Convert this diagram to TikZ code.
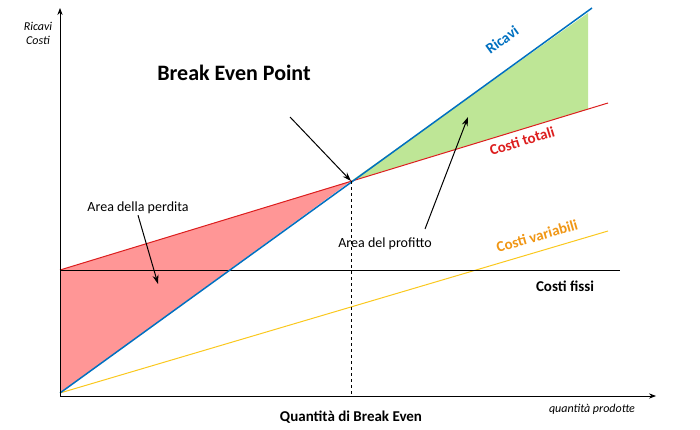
\documentclass[tikz,border=0pt]{standalone}
\usepackage{fontspec}
\setmainfont{Carlito}
\usetikzlibrary{arrows.meta}
\definecolor{ricaviblue}{RGB}{0,112,192}
\definecolor{costired}{RGB}{220,30,30}
\definecolor{varorange}{RGB}{240,150,20}
\definecolor{varyellow}{RGB}{250,200,30}
\definecolor{lossred}{RGB}{255,150,150}
\definecolor{profitgreen}{RGB}{190,230,150}

\begin{document}
\begin{tikzpicture}[
    x=1pt,y=-1pt,
    axis/.style={-{Stealth[length=7pt]},line width=0.8pt},
    lbl/.style={font=\fontsize{14}{16}\selectfont,inner sep=1pt},
    linelbl/.style={font=\fontsize{15}{17}\selectfont\bfseries,inner sep=1pt},
    pointer/.style={-{Stealth[length=9pt,width=6pt]},line width=1pt},
]
\useasboundingbox (0,0) rectangle (700,430);

% Points
\coordinate (o) at (60,396);
\coordinate (ytop) at (60,8);
\coordinate (xend) at (656,396);
\coordinate (bep) at (351,181);
\coordinate (rstart) at (60,393);
\coordinate (rend) at (592,8);
\coordinate (tstart) at (60,270);
\coordinate (tend) at (608,103);
\coordinate (fend) at (620,270);
\coordinate (vend) at (608,231);
\coordinate (bepfoot) at (351,396);

% Areas
\fill[lossred] (tstart) -- (bep) -- (rstart) -- cycle;
\fill[profitgreen] (bep) -- (588,13) -- (588,109) -- cycle;

% Lines
\draw[varyellow,line width=1pt] (rstart) -- (vend);
\draw[line width=1pt] (tstart) -- (fend);
\draw[costired,line width=1pt] (tstart) -- (tend);
\draw[ricaviblue,line width=1.5pt] (rstart) -- (rend);
\draw[dashed,line width=0.5pt] (bep) -- (bepfoot);

% Axes
\draw[axis] (o) -- (ytop);
\draw[axis] (o) -- (xend);

% Labels
\node[lbl,font=\fontsize{12}{14}\selectfont\itshape,align=center] (ylab) at (38,33) {Ricavi\\Costi};
\node[lbl,font=\fontsize{12}{14}\selectfont\itshape] (xlab) at (592,409) {quantità prodotte};
\node[font=\fontsize{15}{17}\selectfont\bfseries] (qbe) at (351,417) {Quantità di Break Even};
\node[font=\fontsize{22}{26}\selectfont\bfseries] (title) at (234,73) {Break Even Point};
\node[lbl] (loss) at (138,208) {Area della perdita};
\node[lbl] (profit) at (385,244) {Area del profitto};
\node[linelbl,text=ricaviblue,rotate=36] (ricavi) at (502,40) {Ricavi};
\node[linelbl,text=costired,rotate=17] (totali) at (522,141) {Costi totali};
\node[linelbl,text=varorange,rotate=16] (variabili) at (537,236) {Costi variabili};
\node[linelbl] (fissi) at (565,286) {Costi fissi};

% Pointers
\coordinate (tfoot) at (290,117);
\coordinate (lossend) at (158,284);
\coordinate (pfoot) at (425,229);
\coordinate (profitend) at (468,117);
\draw[pointer] (tfoot) -- (bep);
\draw[pointer] (loss.south) -- (lossend);
\draw[pointer] (pfoot) -- (profitend);
\end{tikzpicture}
\end{document}
